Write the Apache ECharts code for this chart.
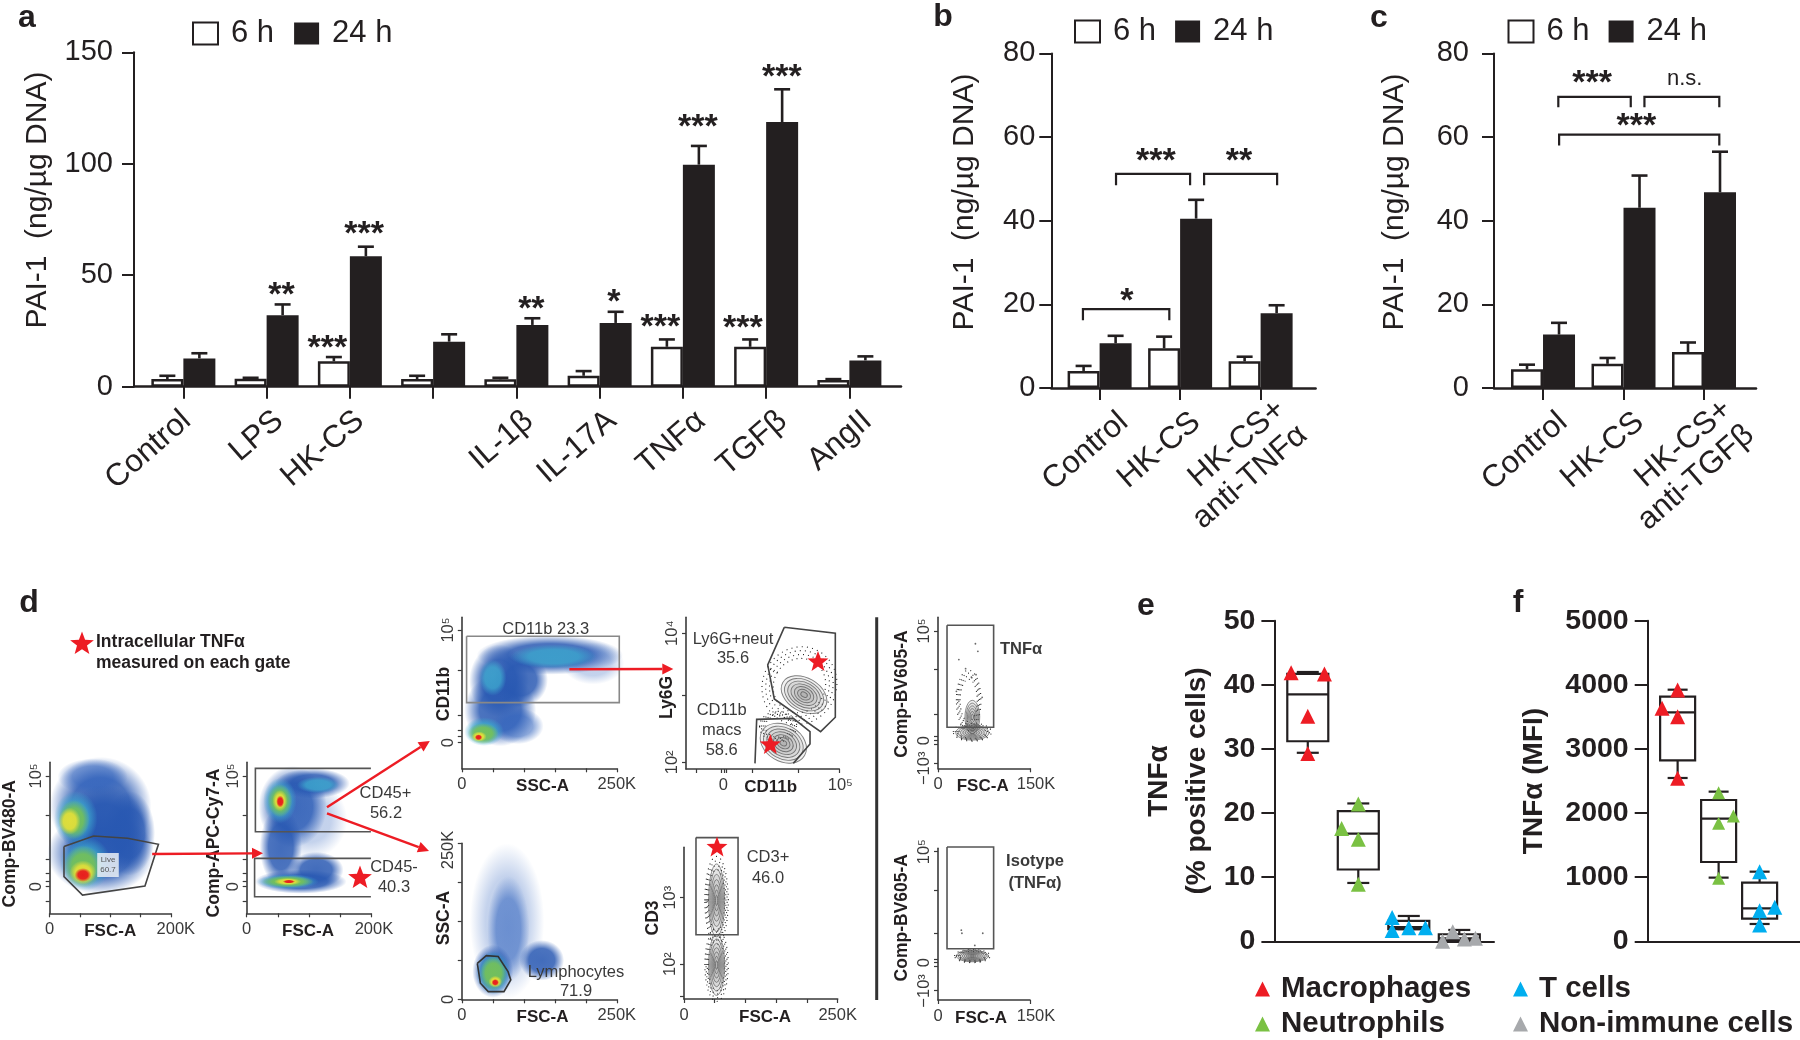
<!DOCTYPE html>
<html><head><meta charset="utf-8">
<style>html,body{margin:0;padding:0;background:#fff}#c{width:1800px;height:1040px}</style>
<script src="https://cdn.jsdelivr.net/npm/echarts@6/dist/echarts.min.js"></script>
</head><body><div id="c"></div>
<script>
// ---------- DATA ----------
const categoriesA = ['Control','LPS','HK-CS','','IL-1β','IL-17A','TNFα','TGFβ','AngII'];
const sixHA      = [3.4,3.6,11.4,3.4,3.3,4.9,17.9,17.9,3.0];
const sixHErrA   = [4.9,4.0,13.3,4.9,4.0,7.0,21.2,21.2,3.4];
const dayA       = [12.7,32.1,58.5,20.2,27.7,28.6,99.6,118.7,11.8];
const dayErrA    = [15.0,36.9,62.8,23.5,30.7,33.6,108,133.4,13.6];
const sigA = [[1.18,43.8,'**'],[1.73,20,'***'],[2.17,71.2,'***'],[4.18,37.6,'**'],[5.17,40.7,'*'],[5.73,29.5,'***'],[6.18,119.3,'***'],[6.72,29,'***'],[7.19,141.6,'***']];

const categoriesB = ['Control','HK-CS','HK-CS+\nanti-TNFα'];
const sixHB    = [4.1,9.5,6.4];
const sixHErrB = [5.3,12.3,7.5];
const dayB     = [10.7,40.5,17.9];
const dayErrB  = [12.5,45,19.8];
const bracketsB = [[-0.207,0.866,18.9,16.2],[0.204,1.124,51.2,48.5],[1.298,2.205,51.2,48.5]];
const sigB = [[0.34,22.4,'*'],[0.70,55.7,'***'],[1.73,55.7,'**']];

const categoriesC = ['Control','HK-CS','HK-CS+\nanti-TGFβ'];
const sixHC    = [4.5,5.8,8.6];
const sixHErrC = [5.6,7.2,10.9];
const dayC     = [12.8,43.1,46.8];
const dayErrC  = [15.6,50.8,56.5];
const bracketsC = [[0.19,1.09,69.6,67.1],[1.26,2.19,69.6,67.1],[0.20,2.19,60.6,58]];
const sigC = [[0.61,74.5,'***'],[1.16,64.1,'***']];
const nsC = [[1.76,73.8,'n.s.']];

const boxesE = [[0,29.4,31.2,38.5,41.7,42],[1,9.1,11.2,16.8,20.3,21.5],[2,1.9,1.9,2.2,3.2,3.95],[3,0.15,0.15,0.47,1.1,1.77]];
const boxesF = [[0,2547,2822,3571,3815,3924],[1,993,1237,1913,2204,2334],[2,270,353,515,915,1086]];
const macE = [[-0.33,41.9],[0.33,41.7],[0,35.1],[0,29.3]];
const neuE = [[0.67,17.6],[1,15.9],[1,21.4],[1,8.9]];
const tcE  = [[1.67,3.7],[1.67,1.7],[2,2.1],[2.33,2.1]];
const nonE = [[2.67,0],[2.87,1.5],[3.1,0.36],[3.32,0.47]];
const macF = [[-0.38,3633],[0,3919],[0,3503],[0,2542]];
const neuF = [[1,2318],[1,1840],[1.36,1954],[1,982]];
const tcF  = [[2,1086],[2,478],[2.37,530],[2,255]];

// density areas of the flow plots: x, y, half-width, half-height, rotation, density level
const blobsD1 = [[84,70.6,84,33,0,1],[84,39.7,88,27,0,1],[71,90.5,58,12,0,6],[132,53,42,28,0,1],[90,55,70,30,0,1],[43,63,36,18,0,2],[59,33,42,18,0,2],[40,62,26,13,0,3],[55,31,32,14,0,3],[33,61,18,9,0,4],[55,27,22,8,0,4],[55,25.4,14,4.6,0,5]];
const blobsD2 = [[74,70.6,55,27,0,1],[106,86,60,10,0,1],[100,62,62,26,0,0],[55,44,34,26,0,1],[87,21,74,8,0,1],[112,28.7,44,12,0,1],[115,85,34,5.4,0,2],[53.5,74.6,27,15,0,2],[66,21,50,5,0,2],[53.5,74.6,20,11,0,3],[66,21,42,4,0,3],[53.5,74.6,12,7,0,4],[66,21,22,2.4,0,4],[54,74,6.5,4,0,5],[68,21,10,1.2,0,5]];
const blobsD3 = [[142,75,118,13,0,1],[60,58,48,24,0,1],[62,38.6,58,24,0,1],[95,58.5,44,18,0,1],[90,28,42,12,0,6],[212,69.5,50,14,0,0],[148,74,70,8,0,2],[50,60,22,12,0,2],[36,24.3,32,9.5,0,2],[34.5,23,25,7,0,3],[28,21,12,3.4,0,4],[27,20.5,6,2,0,5]];
const blobsD4 = [[73,50,60,50,0,0],[75,45,34,34,0,6],[129,25,36,13,0,1],[50,18,33,17,0,1],[51,17,28,14,0,2],[51,16.7,22,11,0,3],[54,11.3,11,3.8,0,4],[54,10.8,6,2.2,0,5]];
// contour areas: x, y, half-width, half-height, rotation, rings
const contoursD5 = [[77,49,16,11,-30,7],[63.5,17,16,12,-30,7]];
const stippleD5  = [[74,55,24,26,-30],[60,28,12,10,0]];
const contoursD6 = [[53,65,13,24,0,7],[53,22.4,13,20,0,7]];
const stippleD6  = [[53,65,19,29,0],[53,22.4,19,24,0]];
const contoursD7 = [[56,23.6,27,4.9,0,7],[56,34,12,11,0,6]];
const stippleD7  = [[50,45,20,20,0],[56,24,31,6,0]];
const contoursD8 = [[56,29,26,3.8,0,8]];
const stippleD8  = [[56,29,29,4.4,0]];
const eventsD7 = [[61,82.5],[65,77.5],[34,72],[45,66],[55,60],[62,62],[30,51],[72,47]];
const eventsD8 = [[38,46],[39,44],[73,44],[60,36]];
// gates
const gateD1 = [[23.6,44.2],[72.5,51.2],[128.6,49.7],[179.6,45.7],[157.3,18.1],[54.2,12.1],[23.6,24.3],[23.6,44.2]];
const gateD2a = [[200,96],[14,96],[14,54],[200,54]];
const gateD2b = [[200,36.4],[12.7,36.4],[12.7,11],[200,11]];
const gateD3 = [[7.7,87.5],[254,87.5],[254,43.5],[7.7,43.5],[7.7,87.5]];
const gateD4 = [[25,23],[39.5,28],[58.7,27.4],[74.6,17.7],[79,12.4],[68,4.9],[42.7,4.9],[30,10.3],[25,23]];
const gateD5a = [[64.1,93.4],[97.4,89.5],[97.4,34.1],[87.8,24.6],[57.6,46.2],[53.3,68.6],[64.1,93.4]];
const gateD5b = [[45,3.7],[46.1,32.7],[70,33.4],[80.9,24.6],[80.9,16.5],[70,3.7]];
const gateD6 = [[19.5,106.4],[87.9,106.4],[87.9,42.4],[19.5,42.4],[19.5,106.4]];
const gateD7 = [[14.7,94.7],[90.7,94.7],[90.7,27.2],[14.7,27.2],[14.7,94.7]];
const gateD8 = [[14.7,100.9],[90.7,100.9],[90.7,33.8],[14.7,33.8],[14.7,100.9]];

// ---------- STYLE ----------
const FF = '"Liberation Sans", Arial, sans-serif';
const INK = '#231F20', GREY = '#3a3a3a';
const RED = '#ED1C24', GREEN = '#7AC143', BLUE = '#00AEEF', SILVER = '#A7A9AC';
const DENSITY = [[50,100,190,.3],[40,88,178,.88],[60,165,205,.85],[120,195,80,.9],[235,225,55,.9],[232,30,30,1],[50,100,190,.6]];

const grids=[], xAxes=[], yAxes=[], series=[];
function shift(axisCenter,target){const d=axisCenter-target;return d>0?[0,0,0,2*d]:[0,-2*d,0,0];}
function addGrid(g){grids.push({left:g.left,top:g.top,width:g.width,height:g.height,containLabel:false});return grids.length-1;}

// ---------- BAR PANELS ----------
function barPanel(p){
  const g=addGrid(p), lp={};
  p.labelPos.forEach((v,i)=>lp[v]=p.cats[i]);
  lp[p.xMin]=' '; lp[p.xMax]=' ';
  xAxes.push({gridIndex:g,type:'value',min:p.xMin,max:p.xMax,splitLine:{show:false},
    axisLine:{onZero:false,lineStyle:{color:INK,width:2.5}},
    axisTick:{length:12,lineStyle:{color:INK,width:2},customValues:p.cats.map((_,i)=>i)},
    axisLabel:{customValues:[p.xMin,...p.labelPos,p.xMax],rotate:41,margin:p.labelMargin,fontFamily:FF,fontSize:31.5,color:INK,lineHeight:34,
      hideOverlap:false,showMinLabel:true,showMaxLabel:true,formatter:v=>lp[v]}});
  yAxes.push({gridIndex:g,type:'value',min:0,max:p.yMax,interval:p.yStep,splitLine:{show:false},
    axisLine:{show:true,onZero:false,lineStyle:{color:INK,width:2}},axisTick:{show:true,length:12,lineStyle:{color:INK,width:2}},
    axisLabel:{margin:p.yMargin,fontFamily:FF,fontSize:29,color:INK},
    name:'PAI-1  (ng/µg DNA)',nameLocation:'middle',nameGap:p.nameGap,nameRotate:90,nameMoveOverlap:false,
    nameTextStyle:{fontFamily:FF,fontSize:30,color:INK,padding:shift(p.top+p.height/2,p.nameY)}});
  const bar=(name,vals,fill,border)=>series.push({type:'bar',name,xAxisIndex:g,yAxisIndex:g,barWidth:32,barGap:'0%',
    data:vals.map((v,i)=>[i,v]),itemStyle:{color:fill,borderColor:border,borderWidth:fill==='#fff'?2.5:0},animation:false,silent:true});
  bar('6 h',p.six,'#fff',INK); bar('24 h',p.day,INK,INK);
  const err=(vals,tops,side)=>series.push({type:'custom',xAxisIndex:g,yAxisIndex:g,animation:false,silent:true,z:3,
    data:vals.map((v,i)=>[i,v,tops[i]]),encode:{x:0,y:[1,2]},
    renderItem(par,api){
      const b=api.coord([api.value(0),api.value(1)]),t=api.coord([api.value(0),api.value(2)]);
      const x=b[0]+side*16, st={stroke:INK,lineWidth:2.6,fill:null};
      return {type:'group',children:[
        {type:'line',shape:{x1:x,y1:b[1],x2:x,y2:t[1]},style:st},
        {type:'line',shape:{x1:x-8,y1:t[1],x2:x+8,y2:t[1]},style:st}]};
    }});
  err(p.six,p.sixErr,-1); err(p.day,p.dayErr,1);
  textSeries(g,p.sig,34,7,'bold');
  if(p.ns) textSeries(g,p.ns,22,0,'normal');
  if(p.brackets) series.push({type:'custom',xAxisIndex:g,yAxisIndex:g,animation:false,silent:true,z:3,
    data:p.brackets,encode:{x:[0,1],y:[2,3]},
    renderItem(par,api){
      const a=api.coord([api.value(0),api.value(2)]),b=api.coord([api.value(1),api.value(3)]);
      return {type:'polyline',shape:{points:[[a[0],b[1]],[a[0],a[1]],[b[0],a[1]],[b[0],b[1]]]},style:{stroke:INK,lineWidth:2.2,fill:null}};
    }});
}
function textSeries(g,rows,size,dy,weight){
  series.push({type:'custom',xAxisIndex:g,yAxisIndex:g,animation:false,silent:true,z:4,
    data:rows.map(r=>[r[0],r[1]]),encode:{x:0,y:1},
    renderItem(par,api){
      const c=api.coord([api.value(0),api.value(1)]);
      return {type:'text',x:c[0],y:c[1]+dy,style:{text:rows[par.dataIndex][2],fontFamily:FF,fontSize:size,fontWeight:weight,fill:INK,align:'center',verticalAlign:'middle'}};
    }});
}
barPanel({left:134,top:52.3,width:767,height:334.4,xMin:-0.593,xMax:8.62,yMax:150,yStep:50,cats:categoriesA,six:sixHA,sixErr:sixHErrA,day:dayA,dayErr:dayErrA,sig:sigA,nameGap:81,nameY:200,labelMargin:30,yMargin:21,labelPos:[0.04,1.15,2.12,3.15,4.15,5.15,6.22,7.2,8.22]});
barPanel({left:1051.3,top:53.4,width:264.3,height:334.7,xMin:-0.6,xMax:2.683,yMax:80,yStep:20,cats:categoriesB,six:sixHB,sixErr:sixHErrB,day:dayB,dayErr:dayErrB,sig:sigB,brackets:bracketsB,nameGap:72,nameY:202,labelMargin:30,yMargin:16,labelPos:[0.3,1.2,2.39]});
barPanel({left:1494,top:53.4,width:262,height:334.7,xMin:-0.609,xMax:2.646,yMax:80,yStep:20,cats:categoriesC,six:sixHC,sixErr:sixHErrC,day:dayC,dayErr:dayErrC,sig:sigC,ns:nsC,brackets:bracketsC,nameGap:84,nameY:202,labelMargin:30,yMargin:25,labelPos:[0.25,1.2,2.43]});

// ---------- BOX PANELS ----------
function boxPanel(p){
  const g=addGrid(p);
  xAxes.push({gridIndex:g,type:'value',min:p.xMin,max:p.xMax,splitLine:{show:false},axisLine:{onZero:false,lineStyle:{color:INK,width:2}},axisTick:{show:false},axisLabel:{show:false}});
  yAxes.push({gridIndex:g,type:'value',min:0,max:p.yMax,interval:p.yStep,splitLine:{show:false},
    axisLine:{show:true,onZero:false,lineStyle:{color:INK,width:2}},axisTick:{show:true,length:13,lineStyle:{color:INK,width:2}},
    axisLabel:{margin:19,fontFamily:FF,fontSize:28.5,fontWeight:'bold',color:INK,formatter:v=>String(v)},
    name:p.name,nameLocation:'middle',nameGap:p.nameGap,nameRotate:90,nameMoveOverlap:false,
    nameTextStyle:{fontFamily:FF,fontSize:28,fontWeight:'bold',color:INK,lineHeight:38}});
  series.push({type:'custom',name:'box',xAxisIndex:g,yAxisIndex:g,animation:false,silent:true,z:2,
    data:p.boxes,encode:{x:0,y:[1,2,3,4,5]},
    renderItem(par,api){
      const x=api.value(0),c=d=>api.coord([x,api.value(d)]),lo=c(1),q1=c(2),md=c(3),q3=c(4),hi=c(5),cx=lo[0],w=p.boxW/2,k=p.capW/2;
      const st={stroke:INK,lineWidth:2.2,fill:null},L=(x1,y1,x2,y2)=>({type:'line',shape:{x1,y1,x2,y2},style:st});
      return {type:'group',children:[
        {type:'rect',shape:{x:cx-w,y:q3[1],width:2*w,height:q1[1]-q3[1]},style:st},
        L(cx-w,md[1],cx+w,md[1]),L(cx,q3[1],cx,hi[1]),L(cx,q1[1],cx,lo[1]),L(cx-k,hi[1],cx+k,hi[1]),L(cx-k,lo[1],cx+k,lo[1])]};
    }});
  p.points.forEach(([name,pts,col,size])=>series.push({type:'scatter',name,xAxisIndex:g,yAxisIndex:g,symbol:'triangle',symbolSize:size,data:pts,itemStyle:{color:col,opacity:1},animation:false,silent:true,z:5,clip:false}));
}
boxPanel({left:1274.4,top:620.7,width:219.6,height:320.6,xMin:-0.661,xMax:3.687,yMax:50,yStep:10,name:'TNFα\n(% positive cells)',nameGap:58,boxes:boxesE,boxW:41,capW:22,
  points:[['Macrophages',macE,RED,15],['Neutrophils',neuE,GREEN,15],['T cells',tcE,BLUE,15],['Non-immune cells',nonE,SILVER,15]]});
boxPanel({left:1647.7,top:620.7,width:152.3,height:320.6,xMin:-0.73,xMax:2.985,yMax:5000,yStep:1000,name:'TNFα (MFI)',nameGap:94,boxes:boxesF,boxW:35,capW:20,
  points:[['Macrophages',macF,RED,15],['Neutrophils',neuF,GREEN,13],['T cells',tcF,BLUE,15]]});

// ---------- FLOW PLOTS ----------
function flow(p){
  const g=addGrid(p), lab=(pairs)=>{const m={};pairs.forEach(([v,t])=>m[v]=t);return m;};
  const xm=lab(p.xLabels), ym=lab(p.yLabels), cx=p.left+p.width/2;
  xAxes.push({gridIndex:g,type:'value',min:0,max:p.xMax,splitLine:{show:false},
    axisLine:{onZero:false,lineStyle:{color:GREY,width:1.6}},
    axisTick:{length:4,lineStyle:{color:GREY,width:1.2},customValues:p.xTicks},
    axisLabel:{customValues:p.xLabels.map(a=>a[0]),margin:8,fontFamily:FF,fontSize:16.5,color:GREY,hideOverlap:false,showMinLabel:true,showMaxLabel:true,
      formatter:v=>v>=p.xMax?'{r|'+xm[v]+'}':xm[v],rich:{r:{fontFamily:FF,fontSize:16.5,color:GREY,padding:[0,0,0,p.xShift||0]}}},
    name:p.xName,nameLocation:'middle',nameGap:9.5,nameMoveOverlap:false,nameTextStyle:{fontFamily:FF,fontWeight:'bold',fontSize:17,color:INK,padding:p.nx>cx?[0,0,0,2*(p.nx-cx)]:[0,2*(cx-p.nx),0,0]}});
  yAxes.push({gridIndex:g,type:'value',min:0,max:100,splitLine:{show:false},
    axisLine:{show:true,onZero:false,lineStyle:{color:GREY,width:1.6}},
    axisTick:{show:true,length:4,lineStyle:{color:GREY,width:1.2},customValues:p.yTicks},
    axisLabel:{customValues:p.yLabels.map(a=>a[0]),rotate:90,margin:5,fontFamily:FF,fontSize:16.5,color:GREY,hideOverlap:false,showMinLabel:true,showMaxLabel:true,formatter:v=>ym[v]},
    name:p.yName,nameLocation:'middle',nameGap:p.left-p.yNameX-9,nameRotate:90,nameMoveOverlap:false,
    nameTextStyle:{fontFamily:FF,fontWeight:'bold',fontSize:17.5,color:INK,padding:shift(p.top+p.height/2,p.ny)}});
  if(p.blobs) series.push({type:'custom',xAxisIndex:g,yAxisIndex:g,animation:false,silent:true,z:1,clip:false,
    data:p.blobs,encode:{x:0,y:1},
    renderItem(par,api){
      const r=p.blobs[par.dataIndex],c=api.coord([r[0],r[1]]),s=api.size([r[2],r[3]]),d=DENSITY[r[5]];
      const rgb=`${d[0]},${d[1]},${d[2]}`;
      return {type:'circle',x:c[0],y:c[1],scaleX:s[0]/100,scaleY:s[1]/100,rotation:r[4]*Math.PI/180,shape:{cx:0,cy:0,r:100},
        style:{fill:{type:'radial',x:.5,y:.5,r:.5,colorStops:[{offset:0,color:`rgba(${rgb},${d[3]})`},{offset:.58,color:`rgba(${rgb},${d[3]*.95})`},{offset:1,color:`rgba(${rgb},0)`}]}}};
    }});
  if(p.stipple) series.push({type:'custom',xAxisIndex:g,yAxisIndex:g,animation:false,silent:true,z:1,clip:false,
    data:p.stipple,encode:{x:0,y:1},
    renderItem(par,api){
      const r=p.stipple[par.dataIndex],c=api.coord([r[0],r[1]]),s=api.size([r[2],r[3]]),kids=[];
      [1,.9,.8,.7].forEach(f=>kids.push({type:'ellipse',x:c[0],y:c[1],rotation:r[4]*Math.PI/180,shape:{cx:0,cy:0,rx:s[0]*f,ry:s[1]*f},style:{fill:null,stroke:'#222',lineWidth:1.1,lineDash:[1,3.2+f]}}));
      return {type:'group',children:kids};
    }});
  if(p.contours) series.push({type:'custom',xAxisIndex:g,yAxisIndex:g,animation:false,silent:true,z:2,clip:false,
    data:p.contours,encode:{x:0,y:1},
    renderItem(par,api){
      const r=p.contours[par.dataIndex],c=api.coord([r[0],r[1]]),s=api.size([r[2],r[3]]),n=r[5],kids=[];
      for(let i=0;i<n;i++){const f=1-i/n;kids.push({type:'ellipse',x:c[0],y:c[1],rotation:r[4]*Math.PI/180,shape:{cx:0,cy:0,rx:s[0]*f,ry:s[1]*f},style:{fill:'rgba(120,120,120,.10)',stroke:'rgba(85,85,85,.75)',lineWidth:.9}});}
      return {type:'group',children:kids};
    }});
  if(p.events) series.push({type:'scatter',xAxisIndex:g,yAxisIndex:g,symbolSize:1.8,data:p.events,itemStyle:{color:'#444'},animation:false,silent:true,z:2});
  (p.gates||[]).forEach(([pts,col,w])=>series.push({type:'custom',xAxisIndex:g,yAxisIndex:g,animation:false,silent:true,z:3,clip:false,
    data:[pts[0]],encode:{x:0,y:1},
    renderItem(par,api){return {type:'polyline',shape:{points:pts.map(q=>api.coord(q))},style:{fill:null,stroke:col,lineWidth:w||1.6}};}}));
}
flow({left:46.7,top:762.3,width:124.1,height:151,xMax:200,xTicks:[0,50,100,150,200],xLabels:[[0,'0'],[200,'200K']],xShift:10,xName:'FSC-A',nx:108.7,yTicks:[91,65,36,26.5,21,17.7,8],yLabels:[[91,'10⁵'],[17.7,'0']],yName:'Comp-BV480-A',yNameX:7,ny:843.7,blobs:blobsD1,gates:[[gateD1,'#444',1.6]]});
flow({left:246.7,top:762.3,width:124.2,height:151,xMax:200,xTicks:[0,50,100,150,200],xLabels:[[0,'0'],[200,'200K']],xShift:6,xName:'FSC-A',nx:308,yTicks:[91,65,36,26.5,21,17.7,8],yLabels:[[91,'10⁵'],[17.7,'0']],yName:'Comp-APC-Cy7-A',yNameX:214,ny:843,blobs:blobsD2,gates:[[gateD2a,'#555',1.6],[gateD2b,'#555',1.6]]});
flow({left:461.8,top:617.3,width:155,height:151,xMax:250,xTicks:[0,50,100,150,200,250],xLabels:[[0,'0'],[250,'250K']],xShift:0,xName:'SSC-A',nx:542.5,yTicks:[91.6,65,35,25,21,17],yLabels:[[91.6,'10⁵'],[17,'0']],yName:'CD11b',yNameX:444,ny:694,blobs:blobsD3,gates:[[gateD3,'#888',1.6]]});
flow({left:461.8,top:843.3,width:155,height:156,xMax:250,xTicks:[0,50,100,150,200,250],xLabels:[[0,'0'],[250,'250K']],xShift:0,xName:'FSC-A',nx:542.5,yTicks:[0,25,50,75,100],yLabels:[[0,'0'],[95.7,'250K']],yName:'SSC-A',yNameX:444,ny:918,blobs:blobsD4,gates:[[gateD4,'#333',1.6]]});
flow({left:686,top:617.3,width:153.3,height:151.7,xMax:100,xTicks:[6.5,23.3,24.8,26.5,43.3,73.3,100],xLabels:[[24.3,'0'],[100,'10⁵']],xShift:2,xName:'CD11b',nx:770.7,yTicks:[89.5,48.4,4.4],yLabels:[[89.5,'10⁴'],[4.4,'10²']],yName:'Ly6G',yNameX:666.7,ny:697.5,contours:contoursD5,stipple:stippleD5,gates:[[gateD5a,'#444',1.6],[gateD5b,'#444',1.6]]});
flow({left:684,top:847.3,width:153.7,height:151.7,xMax:250,xTicks:[0,50,100,150,200,250],xLabels:[[0,'0'],[250,'250K']],xShift:0,xName:'FSC-A',nx:765,yTicks:[66.8,23,2],yLabels:[[66.8,'10³'],[23,'10²']],yName:'CD3',yNameX:653,ny:918,contours:contoursD6,stipple:stippleD6,gates:[[gateD6,'#555',1.6]]});
flow({left:938,top:617.3,width:92,height:151,xMax:150,xTicks:[0,150],xLabels:[[0,'0'],[150,'150K']],xShift:12,xName:'FSC-A',nx:982.7,yTicks:[91,65.8,36,21,18.3,16,3.3],yLabels:[[91,'10⁵'],[18.3,'0'],[0,'−10³']],yName:'Comp-BV605-A',yNameX:901.7,ny:694,contours:contoursD7,stipple:stippleD7,events:eventsD7,gates:[[gateD7,'#555',1.6]]});
flow({left:938,top:848.3,width:92,height:151.7,xMax:150,xTicks:[0,150],xLabels:[[0,'0'],[150,'150K']],xShift:12,xName:'FSC-A',nx:981,yTicks:[97.8,72.5,44,27,24.6,22,6.6],yLabels:[[97.8,'10⁵'],[24.6,'0'],[6,'−10³']],yName:'Comp-BV605-A',yNameX:901.7,ny:917.7,contours:contoursD8,stipple:stippleD8,events:eventsD8,gates:[[gateD8,'#555',1.6]]});

// ---------- ANNOTATIONS ----------
const g=[];
const text=(t,x,y,size,bold,fill)=>g.push({type:'text',z:60,x,y,style:{text:t,fontFamily:FF,fontSize:size,fontWeight:bold?'bold':'normal',fill:fill||GREY,align:'center',verticalAlign:'middle'}});
[['a',27,18],['b',943,17],['c',1379,18],['d',29,603],['e',1146,606],['f',1518,603]].forEach(([t,x,y])=>text(t,x,y,32,true,INK));
g.push({type:'text',z:60,x:96,y:642,style:{text:'Intracellular TNFα',fontFamily:FF,fontSize:17.5,fontWeight:'bold',fill:INK,align:'left',verticalAlign:'middle'}});
g.push({type:'text',z:60,x:96,y:663,style:{text:'measured on each gate',fontFamily:FF,fontSize:17.5,fontWeight:'bold',fill:INK,align:'left',verticalAlign:'middle'}});
text('CD45+',385.5,793,16.5); text('56.2',386,813,16.5); text('CD45-',394,867,16.5); text('40.3',394,887,16.5);
text('CD11b 23.3',545.7,629,16.5); text('Lymphocytes',576,972,16.5); text('71.9',576,991,16.5);
text('Ly6G+neut',733,639,16.5); text('35.6',733,658,16.5); text('CD11b',721.7,710,16.5); text('macs',721.7,730,16.5); text('58.6',721.7,750,16.5);
text('CD3+',768,857,16.5); text('46.0',768,878,16.5); text('TNFα',1021,649,16.5,true); text('Isotype',1035,861,16.5,true); text('(TNFα)',1035,883,16.5,true);
g.push({type:'text',z:60,x:108,y:865,style:{text:'Live\n60.7',fontFamily:FF,fontSize:8,lineHeight:10,fill:'#555',align:'center',verticalAlign:'middle',backgroundColor:'rgba(235,240,245,.85)',padding:[2,3]}});
g.push({type:'line',z:55,shape:{x1:876.7,y1:617.3,x2:876.7,y2:1000},style:{stroke:'#333',lineWidth:3}});
function star(cx,cy,r){const pts=[];for(let i=0;i<10;i++){const a=-Math.PI/2+i*Math.PI/5,q=i%2?r*.42:r;pts.push([cx+q*Math.cos(a),cy+q*Math.sin(a)]);}g.push({type:'polygon',z:70,shape:{points:pts},style:{fill:RED}});}
star(82,644,12.5);star(360,878,12.5);star(818,662,11);star(770.3,745,11);star(717,847.5,11);
function arrow(x1,y1,x2,y2){const a=Math.atan2(y2-y1,x2-x1),L=11,W=5.5,bx=x2-L*Math.cos(a),by=y2-L*Math.sin(a);
  g.push({type:'line',z:65,shape:{x1,y1,x2:bx,y2:by},style:{stroke:RED,lineWidth:2.4}});
  g.push({type:'polygon',z:65,shape:{points:[[x2,y2],[bx-W*Math.sin(a),by+W*Math.cos(a)],[bx+W*Math.sin(a),by-W*Math.cos(a)]]},style:{fill:RED}});}
arrow(152.2,854,263,853.3);arrow(327,807.3,429.8,741);arrow(327,813.3,429,851);arrow(569.4,669.3,673.3,669);

const legBar=(left,top,gap)=>({left,top,orient:'horizontal',data:[{name:'6 h',icon:'rect'},{name:'24 h',icon:'rect'}],itemWidth:25,itemHeight:22,itemGap:gap,selectedMode:false,padding:0,
  textStyle:{fontFamily:FF,fontSize:31,color:INK,padding:[0,0,0,8]}});
const legTri=(left,top,name)=>({left,top,orient:'horizontal',data:[{name,icon:'triangle'}],itemWidth:15,itemHeight:15,selectedMode:false,padding:0,
  textStyle:{fontFamily:FF,fontSize:29.5,fontWeight:'bold',color:INK,padding:[0,0,0,6]}});

const chart=echarts.init(document.getElementById('c'),null,{renderer:'canvas'});
chart.setOption({animation:false,backgroundColor:'#fff',textStyle:{fontFamily:FF},
  grid:grids,xAxis:xAxes,yAxis:yAxes,series,graphic:{elements:g},
  legend:[legBar(192,18,20),legBar(1074,16,19),legBar(1507.5,16,19),legTri(1255,974,'Macrophages'),legTri(1255,1009,'Neutrophils'),legTri(1513,974,'T cells'),legTri(1513,1009,'Non-immune cells')]});
</script></body></html>
